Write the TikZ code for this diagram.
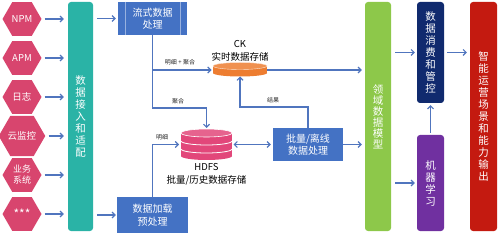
\documentclass[tikz,border=0pt]{standalone}
\usepackage{fontspec}
\setmainfont{Noto Sans CJK SC}
\usetikzlibrary{shapes.geometric,arrows.meta}
\definecolor{hexpink}{HTML}{D8456E}
\definecolor{teal}{HTML}{2AB3A6}
\definecolor{boxblue}{HTML}{4472C4}
\definecolor{arrblue}{HTML}{5075BE}
\definecolor{ckorange}{HTML}{ED7D31}
\definecolor{hdfspink}{HTML}{E2477A}
\definecolor{lime}{HTML}{8DC84A}
\definecolor{navy}{HTML}{102A6E}
\definecolor{purp}{HTML}{7030A0}
\definecolor{redbar}{HTML}{C41A10}
\begin{document}
\begin{tikzpicture}[x=1pt,y=-1pt,
  hexnode/.style={regular polygon, regular polygon sides=6, minimum size=39pt, inner sep=0pt,
    fill=hexpink, text=white, font=\fontsize{9.5}{11}\selectfont, align=center},
  vbar/.style={rounded corners=3pt, text=white, inner sep=0pt, align=center,
    font=\fontsize{10.5}{12}\selectfont},
  bluebox/.style={fill=boxblue, text=white, inner sep=0pt, align=center,
    font=\fontsize{10}{12.5}\selectfont},
  arr/.style={draw=arrblue, line width=1.1pt, -{Straight Barb[length=3pt,width=6pt]}},
  arrboth/.style={draw=arrblue, line width=1.1pt, {Straight Barb[length=3pt,width=6pt]}-{Straight Barb[length=3pt,width=6pt]}},
  lbl/.style={font=\fontsize{6}{7}\selectfont, text=black!85, inner sep=1pt},
  storelbl/.style={font=\fontsize{9.5}{13}\selectfont, text=black, align=center, inner sep=0pt},
  anchorbox/.style={inner sep=0pt, outer sep=0pt}
]
\useasboundingbox (0,0) rectangle (498,235);

% hexagon sources
\node[hexnode] (h1) at (22,19) {NPM};
\node[hexnode] (h2) at (22,58) {APM};
\node[hexnode] (h3) at (22,97) {日志};
\node[hexnode] (h4) at (22,136) {云监控};
\node[hexnode, font=\fontsize{9}{11}\selectfont] (h5) at (22,175) {业务\\系统};
\node[hexnode, font=\fontsize{12}{12}\selectfont] (h6) at (22,214) {***};

% vertical bars
\node[vbar, fill=teal, minimum width=25pt, minimum height=229pt] (t) at (80.5,116.5)
  {数\\据\\接\\入\\和\\适\\配};
\node[vbar, fill=lime, minimum width=26pt, minimum height=229pt, font=\fontsize{10.5}{11}\selectfont] (g) at (378,116.5)
  {领\\域\\数\\据\\模\\型};
\node[vbar, fill=navy, minimum width=27pt, minimum height=101pt] (c) at (430.5,52.5)
  {数\\据\\消\\费\\和\\管\\控};
\node[vbar, fill=purp, minimum width=27pt, minimum height=96pt] (m) at (430.5,183)
  {机\\器\\学\\习};
\node[vbar, fill=redbar, minimum width=27pt, minimum height=229pt] (r) at (483.5,116.5)
  {智\\能\\运\\营\\场\\景\\和\\能\\力\\输\\出};

% blue processing boxes
\node[bluebox, minimum width=69pt, minimum height=33pt] (s) at (152.5,18.5) {流式数据\\处理};
\draw[boxblue!55!white, line width=0.6pt] (125.5,2) -- (125.5,35) (180,2) -- (180,35);
\node[bluebox, minimum width=71pt, minimum height=36pt] (p) at (152.5,215) {数据加载\\预处理};
\node[bluebox, minimum width=70pt, minimum height=33pt] (b) at (308,144.5) {批量/离线\\数据处理};

% CK cylinder
\fill[ckorange] (213,66) rectangle (267,73);
\fill[ckorange] (240,73) ellipse (27 and 3.5);
\fill[ckorange!85!white] (240,66) ellipse (27 and 3.5);
\draw[white!80!ckorange, line width=0.4pt] (240,66) ellipse (27 and 3.5);
\node[anchorbox, minimum width=54pt, minimum height=13pt] (ck) at (240,70) {};
\node[storelbl] (cklbl) at (240,50.5) {CK\\实时数据存储};

% HDFS cylinder
\fill[hdfspink] (181,133) rectangle (232,156);
\fill[hdfspink] (206.5,156) ellipse (25.5 and 4);
\fill[hdfspink!85!white] (206.5,133) ellipse (25.5 and 4);
\draw[white, line width=0.6pt] (206.5,133) ellipse (25.5 and 4);
\draw[white, line width=0.8pt] (181,141) arc[start angle=180, end angle=0, x radius=25.5, y radius=4];
\draw[white, line width=0.8pt] (181,149) arc[start angle=180, end angle=0, x radius=25.5, y radius=4];
\node[anchorbox, minimum width=51pt, minimum height=31pt] (hdfs) at (206.5,144.5) {};
\node[storelbl] (hdfslbl) at (206.5,174.5) {HDFS\\批量/历史数据存储};

% arrows: sources -> access layer
\foreach \h in {h1,h2,h3,h4,h5,h6}
  \draw[arr, shorten <=3pt, shorten >=4pt] (\h.east) -- (\h.east -| t.west);

% access layer -> processing
\draw[arr, shorten <=4pt, shorten >=2pt] (t.east |- s.west) -- (s.west);
\draw[arr, shorten <=4pt, shorten >=1pt] (t.east |- p.west) -- (p.west);

% stream processing -> storage
\coordinate (bend1) at (152.5,108);
\draw[arr, shorten >=1pt] (s.south) -- (bend1) -| (hdfs.north);
\draw[arr, shorten >=1.5pt] (s.south |- ck.west) -- (ck.west);
\node[lbl] (l1) at (180,62) {明细 + 聚合};
\node[lbl] (l2) at (178,101) {聚合};

% load -> HDFS
\draw[arr, shorten >=2pt] (p.north) |- (hdfs.west);
\node[lbl] (l3) at (162,137) {明细};

% HDFS <-> batch
\draw[arrboth, shorten <=1.5pt, shorten >=2pt] (hdfs.east) -- (b.west);

% batch result -> CK
\coordinate (bend2) at (308,107);
\draw[arr] (b.north) -- (bend2) -| (ck.south);
\node[lbl] (l4) at (273,100) {结果};

% to domain model
\draw[arr, shorten >=3pt] (ck.east) -- (ck.east -| g.west);
\draw[arr, shorten <=0pt, shorten >=3pt] (b.east) -- (b.east -| g.west);

% domain model -> consumers
\draw[arr, shorten <=4pt, shorten >=2pt] (g.east |- c.west) -- (c.west);
\draw[arr, shorten <=4pt, shorten >=2pt] (g.east |- m.west) -- (m.west);
\draw[arr, shorten <=2pt, shorten >=2pt] (m.north) -- (c.south);
\draw[arr, shorten <=3pt, shorten >=3pt] (c.east) -- (c.east -| r.west);
\end{tikzpicture}
\end{document}
